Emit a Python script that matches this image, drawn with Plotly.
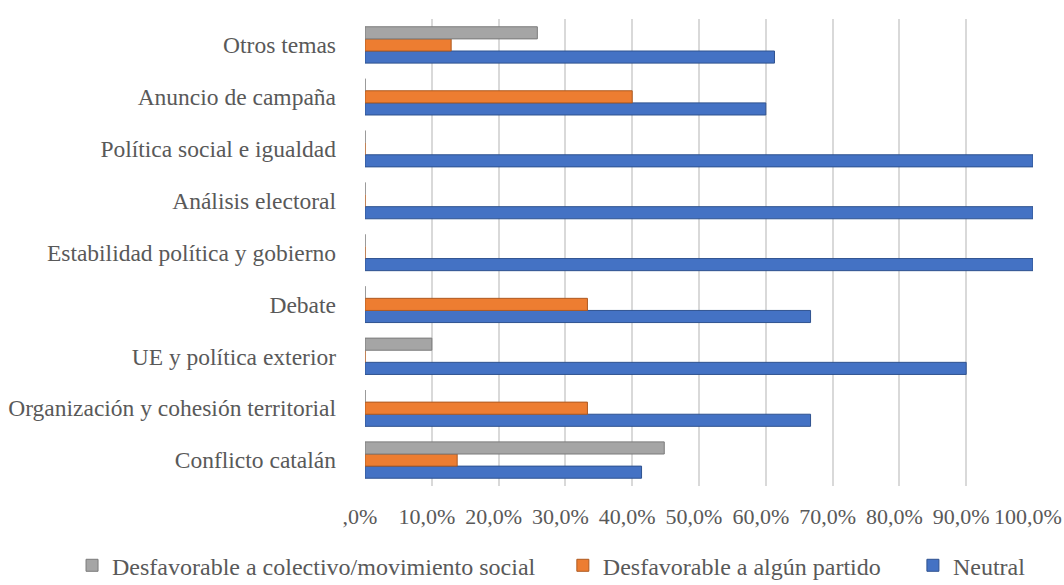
import plotly.graph_objects as go

categories = ["Conflicto catalán", "Organización y cohesión territorial", "UE y política exterior",
              "Debate", "Estabilidad política y gobierno", "Análisis electoral",
              "Política social e igualdad", "Anuncio de campaña", "Otros temas"]
neutral = [41.4, 66.7, 90.0, 66.7, 100.0, 100.0, 100.0, 60.0, 61.3]
desf_partido = [13.8, 33.3, 0.0, 33.3, 0.0, 0.0, 0.0, 40.0, 12.9]
desf_colectivo = [44.8, 0.0, 10.0, 0.0, 0.0, 0.0, 0.0, 0.0, 25.8]
tick_vals = [0, 10, 20, 30, 40, 50, 60, 70, 80, 90, 100]
tick_text = [",0%", "10,0%", "20,0%", "30,0%", "40,0%", "50,0%", "60,0%", "70,0%", "80,0%", "90,0%", "100,0%"]

font_family = "Liberation Serif"
text_color = "#595959"
fig = go.Figure()
fig.add_trace(go.Bar(y=categories, x=neutral, orientation="h", name="Neutral", legend="legend3",
                     marker=dict(color="#4472C4", line=dict(color="#2F528F", width=1))))
fig.add_trace(go.Bar(y=categories, x=desf_partido, orientation="h", name="Desfavorable a algún partido",
                     legend="legend2",
                     marker=dict(color="#ED7D31", line=dict(color="#AE5A21", width=1))))
fig.add_trace(go.Bar(y=categories, x=desf_colectivo, orientation="h",
                     name="Desfavorable a colectivo/movimiento social", legend="legend",
                     marker=dict(color="#A5A5A5", line=dict(color="#7B7B7B", width=1))))

leg_common = dict(orientation="h", xref="container", yref="container", xanchor="left",
                  y=0.033, yanchor="middle", bgcolor="rgba(0,0,0,0)",
                  font=dict(family=font_family, size=24, color=text_color))

fig.update_layout(
    width=1064, height=585,
    barmode="group", bargap=0.3, bargroupgap=0,
    paper_bgcolor="white", plot_bgcolor="white",
    margin=dict(l=365, r=31, t=19, b=99, autoexpand=False),
    font=dict(family=font_family, size=22, color=text_color),
    xaxis=dict(range=[0, 100], tickvals=tick_vals, ticktext=tick_text,
               showgrid=True, gridcolor="#D9D9D9", gridwidth=2, zeroline=False,
               showline=False, ticks="", ticklabelstandoff=15, ticklabelshift=-5,
               ticklabeloverflow="allow",
               tickfont=dict(family=font_family, size=22, color=text_color)),
    yaxis=dict(showgrid=False, ticks="", showline=False, ticklabelstandoff=28,
               tickfont=dict(family=font_family, size=23.5, color=text_color)),
    legend=dict(x=0.0677, **leg_common),
    legend2=dict(x=0.529, **leg_common),
    legend3=dict(x=0.858, **leg_common),
    showlegend=True,
)
fig.write_html("out.html")
